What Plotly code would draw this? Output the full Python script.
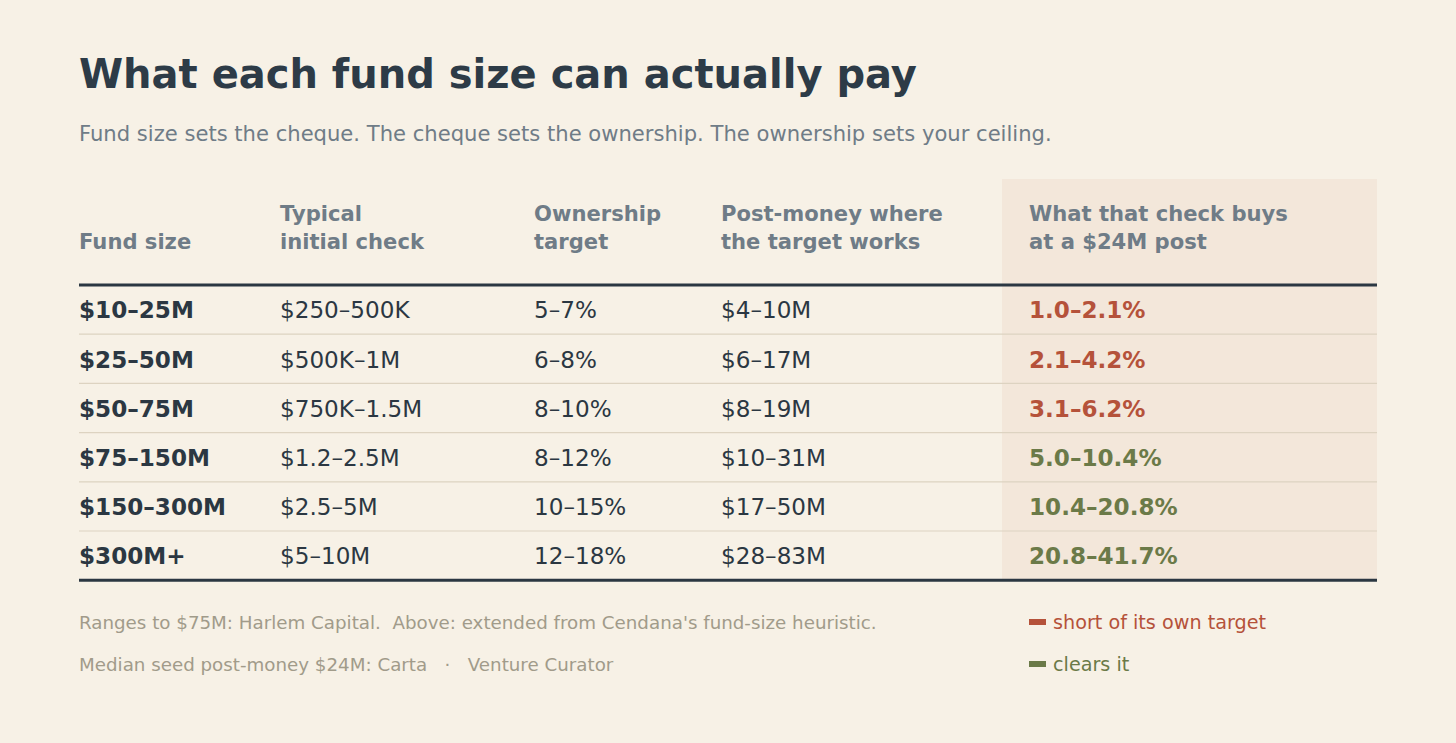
import plotly.graph_objects as go

# ---- data ----
fund_sizes = ["$10–25M", "$25–50M", "$50–75M", "$75–150M", "$150–300M", "$300M+"]
initial_checks = ["$250–500K", "$500K–1M", "$750K–1.5M", "$1.2–2.5M", "$2.5–5M", "$5–10M"]
ownership_targets = ["5–7%", "6–8%", "8–10%", "8–12%", "10–15%", "12–18%"]
post_money_works = ["$4–10M", "$6–17M", "$8–19M", "$10–31M", "$17–50M", "$28–83M"]
buys_at_24m = ["1.0–2.1%", "2.1–4.2%", "3.1–6.2%", "5.0–10.4%", "10.4–20.8%", "20.8–41.7%"]
verdict = ["short", "short", "short", "clears", "clears", "clears"]
headers = ["Fund size", "Typical<br>initial check", "Ownership<br>target",
           "Post-money where<br>the target works", "What that check buys<br>at a $24M post"]
title = "What each fund size can actually pay"
subtitle = "Fund size sets the cheque. The cheque sets the ownership. The ownership sets your ceiling."
footnotes = ["Ranges to $75M: Harlem Capital.\u00a0 Above: extended from Cendana's fund-size heuristic.",
             "Median seed post-money $24M: Carta \u00a0 · \u00a0 Venture Curator"]
legend_labels = {"short": "short of its own target", "clears": "clears it"}

# ---- style ----
BG = "#f7f1e6"
PANEL = "#f3e7da"
DARK = "#2b3742"
HEAD = "#6f7c87"
SUB = "#6f7c87"
FOOT = "#a19b8a"
RULE = "#ddd3c1"
COLORS = {"short": "#b5523a", "clears": "#6b7a48"}
FONT = "DejaVu Sans"

W, H = 1456, 743
col_x = [79, 280, 534, 721, 1029]
left, right = 79, 1377
head_rule = 285
row_h = 49.2
n = len(fund_sizes)
row_y = [head_rule + (i + 0.5) * row_h for i in range(n)]
text_y = [y + 3 for y in row_y]
bottom_rule = head_rule + n * row_h

fig = go.Figure()

# header texts (bottom aligned)
for j, h in enumerate(headers):
    fig.add_trace(go.Scatter(
        x=[col_x[j]], y=[254], mode="text", text=[f"<b>{h}</b>"],
        textposition="top right", textfont=dict(family=FONT, size=21.1, color=HEAD),
        hoverinfo="skip", showlegend=False))

columns = [fund_sizes, initial_checks, ownership_targets, post_money_works]
for j, col in enumerate(columns):
    txt = [f"<b>{v}</b>" for v in col] if j == 0 else col
    fig.add_trace(go.Scatter(
        x=[col_x[j]] * n, y=text_y, mode="text", text=txt,
        textposition="middle right", textfont=dict(family=FONT, size=23.1, color=DARK),
        hoverinfo="skip", showlegend=False))

fig.add_trace(go.Scatter(
    x=[col_x[4]] * n, y=text_y, mode="text", text=[f"<b>{v}</b>" for v in buys_at_24m],
    textposition="middle right",
    textfont=dict(family=FONT, size=23.1, color=[COLORS[v] for v in verdict]),
    hoverinfo="skip", showlegend=False))

shapes = []
# highlight panel
shapes.append(dict(type="rect", x0=1002, x1=right, y0=179, y1=bottom_rule,
                   fillcolor=PANEL, line_width=0, layer="below", xref="x", yref="y"))
# row separators
for i in range(1, n):
    y = head_rule + i * row_h
    shapes.append(dict(type="line", x0=left, x1=right, y0=y, y1=y,
                       line=dict(color=RULE, width=1.2), xref="x", yref="y"))
for y in (head_rule, bottom_rule):
    shapes.append(dict(type="line", x0=left, x1=right, y0=y, y1=y,
                       line=dict(color=DARK, width=3), xref="x", yref="y"))

# legend swatches
leg_y = [622, 664]
for k, key in enumerate(["short", "clears"]):
    shapes.append(dict(type="rect", x0=1029, x1=1046, y0=leg_y[k] - 3, y1=leg_y[k] + 3,
                       fillcolor=COLORS[key], line_width=0, xref="x", yref="y"))

annotations = [
    dict(x=79, y=90, text=f"<b>{title}</b>", showarrow=False, xanchor="left", yanchor="bottom",
         yshift=-9, font=dict(family=FONT, size=40, color="#2d3b47")),
    dict(x=79, y=133, text=subtitle, showarrow=False, xanchor="left", yanchor="middle",
         font=dict(family=FONT, size=21.1, color=SUB)),
]
for k, f in enumerate(footnotes):
    annotations.append(dict(x=79, y=leg_y[k], text=f, showarrow=False, xanchor="left",
                            yanchor="middle", font=dict(family=FONT, size=18.25, color=FOOT)))
for k, key in enumerate(["short", "clears"]):
    annotations.append(dict(x=1053, y=leg_y[k], text=legend_labels[key], showarrow=False,
                            xanchor="left", yanchor="middle",
                            font=dict(family=FONT, size=19.2, color=COLORS[key])))
for a in annotations:
    a["xref"] = "x"
    a["yref"] = "y"
    a["xshift"] = a.get("xshift", 0) - 2

fig.update_layout(
    width=W, height=H, margin=dict(l=0, r=0, t=0, b=0),
    paper_bgcolor=BG, plot_bgcolor=BG,
    xaxis=dict(range=[0, W], visible=False, fixedrange=True),
    yaxis=dict(range=[H, 0], visible=False, fixedrange=True),
    shapes=shapes, annotations=annotations, showlegend=False,
)
fig.write_html(
    "out.html",
    config={"displayModeBar": False},
    post_script="document.body.style.margin='0';document.body.style.background='%s';" % BG,
)
